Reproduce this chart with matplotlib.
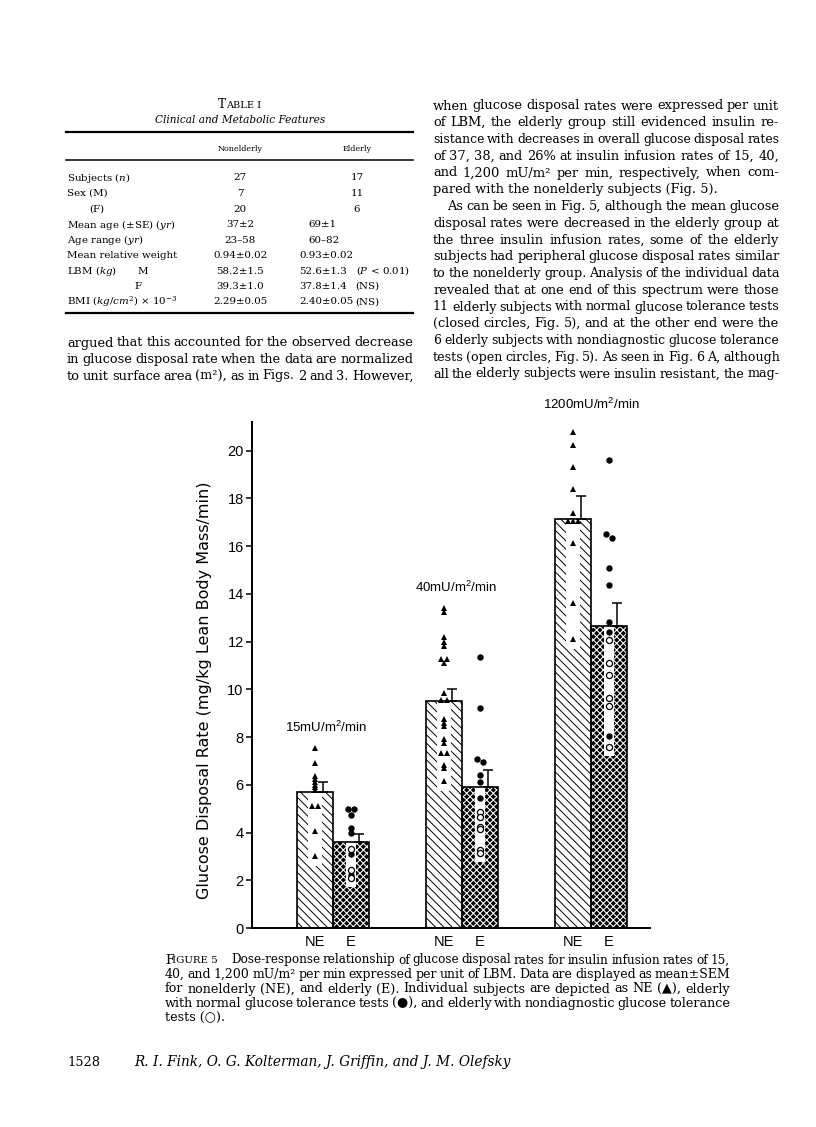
import numpy as np
import matplotlib
matplotlib.use("Agg")
import matplotlib.pyplot as plt
from matplotlib.patches import Rectangle

# --- page / text settings
SERIF = ['DejaVu Serif', 'DejaVu Sans']
SANS = ['Liberation Sans', 'DejaVu Sans']
plt.rcParams['font.family'] = SERIF
plt.rcParams['mathtext.fontset'] = 'custom'
plt.rcParams['mathtext.rm'] = 'DejaVu Serif'
plt.rcParams['mathtext.it'] = 'DejaVu Serif:italic'
plt.rcParams['mathtext.bf'] = 'DejaVu Serif:bold'
plt.rcParams['mathtext.sf'] = 'Liberation Sans'

W, H = 816, 1127

# --- chart data (mg/kg LBM/min)
doses = ['15', '40', '1200']
mean_ne = [5.7, 9.5, 17.15]
sem_ne = [0.4, 0.5, 0.95]
mean_e = [3.6, 5.9, 12.65]
sem_e = [0.35, 0.7, 0.95]

ne_pts = [
    [7.55, 6.9, 6.35, 6.25, 6.1, 6.0, 5.9, 5.8, 5.1, 5.1, 4.05, 3.0],
    [13.4, 13.25, 12.2, 12.0, 11.8, 11.25, 11.25, 11.1, 9.85, 9.55, 9.55, 8.75,
     8.6, 8.45, 7.9, 7.75, 7.35, 7.35, 6.85, 6.7, 6.15],
    [20.8, 20.25, 19.3, 18.4, 17.4, 17.05, 17.05, 17.05, 16.15, 13.6, 12.1],
]
e_closed = [
    [5.0, 5.0, 4.75, 4.2, 4.0, 3.1, 2.2],
    [11.35, 9.2, 7.1, 6.95, 6.4, 6.1, 5.45],
    [19.6, 16.5, 16.35, 15.1, 14.35, 12.8, 12.4, 8.05],
]
e_open = [
    [3.3, 2.45, 2.1],
    [4.85, 4.65, 4.25, 4.15, 3.25, 3.15],
    [12.05, 11.1, 10.6, 9.65, 9.3, 7.6],
]
group_labels = ['NE', 'E']
yticks = list(range(0, 21, 2))

# --- page text
table_labels = ['Subjects ($n$)', 'Sex (M)', '(F)', 'Mean age (±SE) ($yr$)', 'Age range ($yr$)',
                'Mean relative weight', 'LBM ($kg$)', 'F', 'BMI ($kg/cm^{2}$) × 10$^{-3}$']
col_ne = ['27', '7', '20', '37±2', '23–58', '0.94±0.02', '58.2±1.5', '39.3±1.0', '2.29±0.05']
col_e = ['17', '11', '6', '69±1', '60–82', '0.93±0.02', '52.6±1.3', '37.8±1.4', '2.40±0.05']
col_note = ['', '', '', '', '', '', '($P$ < 0.01)', '(NS)', '(NS)']

left_lines = [
    'argued that this accounted for the observed decrease',
    'in glucose disposal rate when the data are normalized',
    'to unit surface area (m²), as in Figs. 2 and 3. However,',
]
right_lines = [
    'when glucose disposal rates were expressed per unit',
    'of LBM, the elderly group still evidenced insulin re-',
    'sistance with decreases in overall glucose disposal rates',
    'of 37, 38, and 26% at insulin infusion rates of 15, 40,',
    'and 1,200 mU/m² per min, respectively, when com-',
    'pared with the nonelderly subjects (Fig. 5).',
    'As can be seen in Fig. 5, although the mean glucose',
    'disposal rates were decreased in the elderly group at',
    'the three insulin infusion rates, some of the elderly',
    'subjects had peripheral glucose disposal rates similar',
    'to the nonelderly group. Analysis of the individual data',
    'revealed that at one end of this spectrum were those',
    '11 elderly subjects with normal glucose tolerance tests',
    '(closed circles, Fig. 5), and at the other end were the',
    '6 elderly subjects with nondiagnostic glucose tolerance',
    'tests (open circles, Fig. 5). As seen in Fig. 6 A, although',
    'all the elderly subjects were insulin resistant, the mag-',
]
caption_lines = [
    'Dose-response relationship of glucose disposal rates for insulin infusion rates of 15,',
    '40, and 1,200 mU/m² per min expressed per unit of LBM. Data are displayed as mean±SEM',
    'for nonelderly (NE), and elderly (E). Individual subjects are depicted as NE (▲), elderly',
    'with normal glucose tolerance tests (●), and elderly with nondiagnostic glucose tolerance',
    'tests (○).',
]
footer_authors = 'R. I. Fink, O. G. Kolterman, J. Griffin, and J. M. Olefsky'

fig = plt.figure(figsize=(W / 100, H / 100), dpi=100)
fig.patch.set_facecolor('white')
renderer = fig.canvas.get_renderer()


def fx(x):
    return x / W


def fy(y):
    return 1 - y / H


def line(txt, x0, y, size=8.4, x1=None, style='normal', ha='left', min_gap=3.2):
    # justified when x1 is given, shrinks the font if the words do not fit
    if x1 is None:
        return fig.text(fx(x0), fy(y), txt, fontsize=size, style=style, ha=ha, va='center')
    words = txt.split()
    arts = [fig.text(0, 0, w, fontsize=size, style=style, va='center') for w in words]
    widths = [a.get_window_extent(renderer).width for a in arts]
    gap = (x1 - x0 - sum(widths)) / max(len(words) - 1, 1)
    if gap < min_gap:
        k = (x1 - x0 - min_gap * (len(words) - 1)) / sum(widths)
        for a in arts:
            a.set_fontsize(size * k)
        widths = [w * k for w in widths]
        gap = min_gap
    x = x0
    for a, w in zip(arts, widths):
        a.set_position((fx(x), fy(y)))
        x += w + gap


def hrule(y, x0, x1, lw):
    fig.add_artist(plt.Line2D([fx(x0), fx(x1)], [fy(y), fy(y)], color='black', lw=lw))


# table
TS = 7.4
fig.text(fx(226), fy(105), 'T', fontsize=8.6, ha='right', va='center')
fig.text(fx(226), fy(105.5), 'ABLE I', fontsize=7.0, ha='left', va='center')
line('Clinical and Metabolic Features', 240, 120, size=7.6, style='italic', ha='center')
hrule(132, 66, 413, 1.6)
fig.text(fx(240), fy(149), 'Nonelderly', fontsize=5.8, ha='center', va='center')
fig.text(fx(357), fy(149), 'Elderly', fontsize=5.8, ha='center', va='center')
hrule(160, 66, 413, 1.1)
for i, lab in enumerate(table_labels):
    y = 178 + i * 15.5
    lx = {'(F)': 89, 'F': 134}.get(lab, 67)
    fig.text(fx(lx), fy(y), lab, fontsize=TS, va='center')
    if lab.startswith('LBM'):
        fig.text(fx(137), fy(y), 'M', fontsize=TS, va='center')
    fig.text(fx(240), fy(y), col_ne[i], fontsize=TS, ha='center', va='center')
    if i < 3:
        fig.text(fx(357), fy(y), col_e[i], fontsize=TS, ha='center', va='center')
    else:
        fig.text(fx(299 if '.' in col_e[i] else 308), fy(y), col_e[i], fontsize=TS, va='center')
    if col_note[i]:
        fig.text(fx(410 if i == 6 else 355), fy(y), col_note[i], fontsize=TS,
                 ha='right' if i == 6 else 'left', va='center')
hrule(313, 66, 413, 1.6)

for i, t in enumerate(left_lines):
    line(t, 67, 343 + i * 16.5, size=9.4, x1=413)
for i, t in enumerate(right_lines):
    y = 106 + i * 16.75
    if i == 5:
        line(t, 433, y, size=9.4)
    elif i == 6:
        line(t, 447, y, size=9.4, x1=779)
    else:
        line(t, 433, y, size=9.4, x1=779)

# caption
CS = 9.2
fig.text(fx(165), fy(960), 'F', fontsize=CS, va='center')
fig.text(fx(172.5), fy(960.5), 'IGURE 5', fontsize=CS * 0.8, va='center')
for i, t in enumerate(caption_lines):
    y = 960 + i * 14.5
    if i == 0:
        line(t, 231, y, size=CS, x1=730, min_gap=2.8)
    elif i == len(caption_lines) - 1:
        line(t, 165, y, size=CS)
    else:
        line(t, 165, y, size=CS, x1=730, min_gap=2.8)
fig.text(fx(67), fy(1062), '1528', fontsize=9.4, va='center')
fig.text(fx(134), fy(1062), footer_authors, fontsize=9.8, style='italic', va='center')

# --- chart (1 x-unit = 129 px, axis from x=252 to 650)
ax = fig.add_axes([fx(252), fy(928), (650 - 252) / W, (928 - 422) / H])
ax.set_xlim(0, 398 / 129)
ax.set_ylim(0, 21.2)
for s in ['top', 'right']:
    ax.spines[s].set_visible(False)
ax.spines['left'].set_linewidth(1.4)
ax.spines['bottom'].set_linewidth(1.4)

bw = 0.28
bounds = np.arange(len(mean_ne)) + 0.628
x_ne = bounds - bw / 2
x_e = bounds + bw / 2


def dodge(vals, step=0.04, tol=0.06):
    vals = np.asarray(vals, float)
    offs = np.zeros(len(vals))
    used = np.zeros(len(vals), bool)
    for i in range(len(vals)):
        if used[i]:
            continue
        grp = [j for j in range(len(vals)) if not used[j] and abs(vals[j] - vals[i]) < tol]
        for k, j in enumerate(grp):
            offs[j] = (k - (len(grp) - 1) / 2) * step
            used[j] = True
    return offs


plt.rcParams['hatch.linewidth'] = 0.7
ax.bar(x_ne, mean_ne, bw, color='white', edgecolor='black', hatch='\\\\\\\\', lw=0, zorder=1)
plt.rcParams['hatch.linewidth'] = 0.75
ax.bar(x_e, mean_e, bw, color='#000000', edgecolor='white', hatch='xxxxx', lw=0, zorder=1)

for i in range(len(mean_ne)):
    lo = min(ne_pts[i]) - 0.4
    ax.add_patch(Rectangle((x_ne[i] - bw * 0.2, lo), bw * 0.4, mean_ne[i] - lo,
                           facecolor='white', lw=0, zorder=2))
    e_all = e_closed[i] + e_open[i]
    lo = min(e_all) - 0.4
    ax.add_patch(Rectangle((x_e[i] - bw * 0.15, lo), bw * 0.3, mean_e[i] - lo,
                           facecolor='white', lw=0, zorder=2))

ax.bar(x_ne, mean_ne, bw, fill=False, edgecolor='black', lw=1.2, zorder=3)
ax.bar(x_e, mean_e, bw, fill=False, edgecolor='black', lw=1.2, zorder=3)

for xs, m, s in [(x_ne, mean_ne, sem_ne), (x_e, mean_e, sem_e)]:
    ax.errorbar(xs + 0.06, m, yerr=[np.zeros(len(m)), s], fmt='none', ecolor='black',
                elinewidth=1.1, capsize=3.5, capthick=1.1, zorder=3)

label_dx = [-0.055, -0.047, 0.0]
for i in range(len(mean_ne)):
    v = np.array(ne_pts[i])
    ax.plot(x_ne[i] + dodge(v), v, '^', color='black', ms=4.6, mew=0, zorder=4)
    v = np.array(e_closed[i])
    ax.plot(x_e[i] + dodge(v, step=0.05, tol=0.2), v, 'o', color='black', ms=4.6, mew=0, zorder=4)
    v = np.array(e_open[i])
    ax.plot(x_e[i] + dodge(v, step=0.05, tol=0.05), v, 'o', mfc='white', mec='black',
            ms=4.4, mew=0.9, zorder=4)
    top = max(ne_pts[i])
    ax.text(bounds[i] + label_dx[i], top + 0.55 + 0.25 * (i == 2),
            r'$\mathsf{' + doses[i] + r'mU/m^{2}/min}$',
            fontsize=9.5, ha='center', va='bottom', clip_on=False)

ax.set_yticks(yticks)
ax.set_yticklabels([str(t) for t in yticks], family=SANS, fontsize=10.5)
ax.tick_params(axis='y', direction='out', length=4, width=1.1, pad=2)
ax.set_xticks(np.concatenate([x_ne, x_e]))
ax.set_xticklabels(group_labels[:1] * 3 + group_labels[1:] * 3, family=SANS, fontsize=10.5)
ax.tick_params(axis='x', length=0, pad=5)
ax.set_ylabel('Glucose Disposal Rate (mg/kg Lean Body Mass/min)', family='DejaVu Sans',
              fontsize=11.5)
ax.yaxis.set_label_coords((212 - 252) / 398, 0.47)

fig.savefig('out.png', dpi=100)
